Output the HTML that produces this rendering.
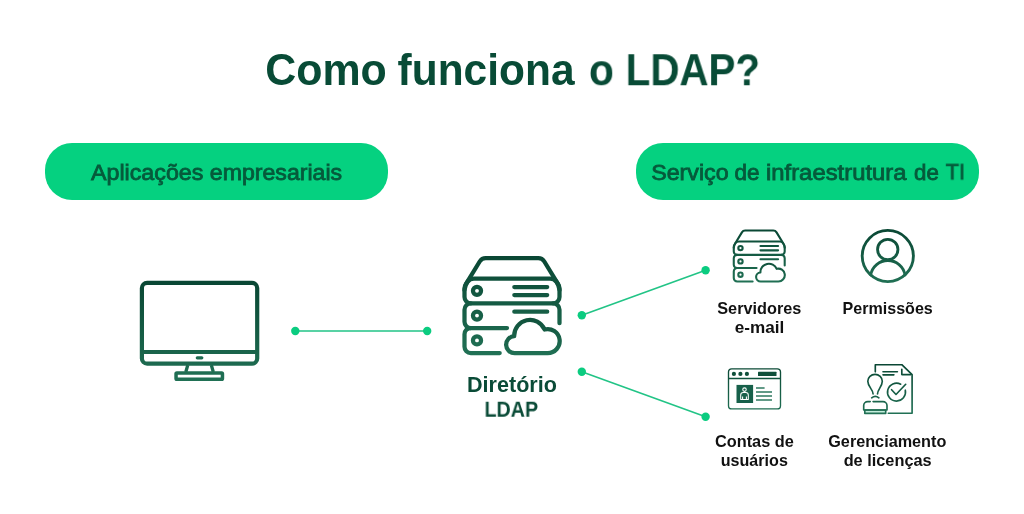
<!DOCTYPE html>
<html lang="pt-BR">
<head>
<meta charset="utf-8">
<title>Como funciona o LDAP?</title>
<style>
  html,body{margin:0;padding:0;background:#fff;}
  body{width:1024px;height:514px;position:relative;overflow:hidden;font-family:"Liberation Sans",sans-serif;}
  h1,h2,p{margin:0;padding:0;font-size:inherit;font-weight:inherit;}
  .t{position:absolute;display:block;white-space:nowrap;will-change:transform;}
  .ttl .t{font-size:42px;line-height:42px;font-weight:bold;color:#084b36;transform-origin:0 35px;}
  .pl .t{font-size:22px;line-height:22px;font-weight:normal;color:#065a3b;transform-origin:0 18px;-webkit-text-stroke:0.8px #065a3b;}
  .dir .t{font-size:21px;line-height:21px;font-weight:bold;color:#0a4b37;transform-origin:0 18px;}
  .lbl .t{font-size:16px;line-height:16px;font-weight:bold;color:#111111;transform-origin:0 13px;}
  .pill{position:absolute;top:143px;height:57px;border-radius:27px;background:#05d180;}
  #p1{left:44.6px;width:343.4px;}
  #p2{left:636.4px;width:342.8px;}
  svg{position:absolute;left:0;top:0;}
</style>
</head>
<body>
<h1 class="ttl"><span class="t" style="left:265px;top:50px;transform:translate(0.28px,0.10px) scale(1.0215,1.05);">Como</span> <span class="t" style="left:397px;top:50px;transform:translate(0.58px,0.10px) scale(1.0111,1.05);">funciona</span> <span class="t" style="left:588px;top:50px;transform:translate(0.98px,0.10px) scale(0.9697,1.05);">o</span> <span class="t" style="left:625px;top:50px;transform:translate(0.68px,0.10px) scale(0.9599,1.05);">LDAP?</span></h1>
<div class="pill" id="p1"></div>
<div class="pill" id="p2"></div>
<h2 class="pl"><span class="t" style="left:91px;top:161px;transform:translate(0.02px,0.60px) scale(1.0560,1.02);">Aplicações</span> <span class="t" style="left:209px;top:161px;transform:translate(0.80px,0.60px) scale(1.0512,1.02);">empresariais</span></h2>
<h2 class="pl"><span class="t" style="left:651px;top:161px;transform:translate(0.19px,0.60px) scale(1.0554,1.02);">Serviço</span> <span class="t" style="left:734px;top:161px;transform:translate(0.51px,0.60px) scale(1.0214,1.02);">de</span> <span class="t" style="left:766px;top:161px;transform:translate(0.00px,0.60px) scale(1.0838,1.02);">infraestrutura</span> <span class="t" style="left:914px;top:161px;transform:translate(0.11px,0.60px) scale(1.0129,1.02);">de</span> <span class="t" style="left:945px;top:161px;transform:translate(0.76px,0.60px) scale(0.9845,1.02);">TI</span></h2>
<svg id="art" width="1024" height="514" viewBox="0 0 1024 514" fill="none">
  <defs>
    <linearGradient id="gBig" gradientUnits="userSpaceOnUse" x1="0" y1="255" x2="0" y2="356">
      <stop offset="0" stop-color="#094633"/><stop offset="1" stop-color="#217155"/>
    </linearGradient>
    <linearGradient id="gCloud" gradientUnits="userSpaceOnUse" x1="0" y1="316" x2="0" y2="356">
      <stop offset="0" stop-color="#0f4f3a"/><stop offset="1" stop-color="#217155"/>
    </linearGradient>
    <linearGradient id="gMon" gradientUnits="userSpaceOnUse" x1="0" y1="280" x2="0" y2="382">
      <stop offset="0" stop-color="#094633"/><stop offset="1" stop-color="#217155"/>
    </linearGradient>
    <linearGradient id="gTop" gradientUnits="userSpaceOnUse" x1="0" y1="228" x2="0" y2="284">
      <stop offset="0" stop-color="#094633"/><stop offset="1" stop-color="#217155"/>
    </linearGradient>
    <linearGradient id="gBot" gradientUnits="userSpaceOnUse" x1="0" y1="364" x2="0" y2="414">
      <stop offset="0" stop-color="#094633"/><stop offset="1" stop-color="#217155"/>
    </linearGradient>
    <g id="server" stroke-linecap="round" stroke-linejoin="round">
      <path d="M470.8 303.4H553.2a6.3 6.3 0 0 0 6.3-6.3V288.5Q559.5 286 557.8 283.6L544.3 261.5Q542.2 258.1 538.3 258.1H485.7Q481.8 258.1 479.7 261.5L466.2 283.6Q464.5 286 464.5 288.5V297.1a6.3 6.3 0 0 0 6.3 6.3Z"/>
      <path d="M464.5 290C465.5 283.5 468.5 278.5 474 278.5H550C555.5 278.5 558.5 283.5 559.5 290"/>
      <path d="M470.8 303.4a6.3 6.3 0 0 0-6.3 6.3V321.7a6.3 6.3 0 0 0 6.3 6.3H507"/>
      <path d="M553.2 303.4a6.3 6.3 0 0 1 6.3 6.3V323.2"/>
      <path d="M470.8 328.0a6.3 6.3 0 0 0-6.3 6.3V346.7a6.3 6.3 0 0 0 6.3 6.3H499.7"/>
      <circle cx="477" cy="290.8" r="4.05"/>
      <circle cx="477" cy="315.6" r="4.05"/>
      <circle cx="477" cy="340.4" r="4.05"/>
      <path d="M514.3 287H547.2M514.3 295H547.2M514.3 311.7H547.2"/>
      <path d="M514.60 353.20A8.5 8.5 0 0 1 514.21 336.21A15.8 15.8 0 0 1 544.54 329.52A12.0 12.0 0 1 1 547.70 353.10Z" stroke="url(#gCloud)"/>
    </g>
  </defs>

  <!-- connectors -->
  <g stroke="#22c486" stroke-width="1.6" stroke-linecap="round">
    <path d="M295.3 331H427.2"/>
    <path d="M581.8 315.3L705.6 270.3"/>
    <path d="M581.8 371.7L705.6 416.7"/>
  </g>
  <g fill="#0bcc80">
    <circle cx="295.3" cy="331" r="4.2"/>
    <circle cx="427.2" cy="331" r="4.2"/>
    <circle cx="581.8" cy="315.3" r="4.2"/>
    <circle cx="705.6" cy="270.3" r="4.2"/>
    <circle cx="581.8" cy="371.7" r="4.2"/>
    <circle cx="705.6" cy="416.7" r="4.2"/>
  </g>

  <!-- monitor -->
  <g stroke="url(#gMon)" stroke-width="4.2" stroke-linejoin="round" stroke-linecap="round">
    <rect x="141.9" y="282.9" width="115.3" height="80.7" rx="5.2"/>
    <path d="M141.9 352H257.2" stroke-linecap="butt"/>
    <path d="M187.8 365L185.8 372M211.3 365L213.3 372" stroke-width="3.3" stroke-linecap="butt"/>
    <rect x="176.05" y="373.0" width="46.4" height="6.2" rx="0.8" stroke-width="3.5"/>
    <rect x="195.7" y="356.3" width="7.7" height="3.1" rx="1.55" fill="#1c6a50" stroke="none"/>
  </g>

  <!-- big server -->
  <use href="#server" stroke="url(#gBig)" stroke-width="4.25"/>

  <!-- small server -->
  <g transform="translate(759.15 255.95) scale(0.536) translate(-511.85 -305.45)">
    <use href="#server" stroke="url(#gBig)" stroke-width="3.9"/>
  </g>

  <!-- permissions -->
  <g stroke="url(#gTop)" stroke-width="2.85" stroke-linecap="round">
    <circle cx="887.8" cy="256" r="25.6"/>
    <circle cx="887.75" cy="249.5" r="10.2"/>
    <path d="M870.7 275A17.4 17.4 0 0 1 905 275"/>
  </g>

  <!-- accounts (browser window) -->
  <g stroke="url(#gBot)" stroke-width="1.35">
    <rect x="728.5" y="368.9" width="52" height="40" rx="3.2"/>
    <path d="M728.5 378.5H780.5"/>
    <g fill="#0f4f3a" stroke="none">
      <circle cx="733.9" cy="373.9" r="2.1"/>
      <circle cx="740.4" cy="373.9" r="2.1"/>
      <circle cx="746.9" cy="373.9" r="2.1"/>
      <rect x="758" y="371.8" width="18.5" height="4.1" rx="0.5"/>
      <rect x="736.5" y="384.9" width="16.6" height="18.1" fill="#17604a"/>
    </g>
    <g stroke="#ffffff" stroke-width="1.05" stroke-linejoin="round">
      <circle cx="744.5" cy="389.6" r="1.75"/>
      <path d="M740.7 399.4V395Q740.7 392.4 743.3 392.4H745.7Q748.3 392.4 748.3 395V399.4Z"/>
      <path d="M742.6 399.4V396.6M746.4 399.4V396.6"/>
    </g>
    <path d="M756 388.1H764.6M756 392.1H772M756 396H772M756 400H772" stroke-width="1.5" stroke="#2f7a60"/>
  </g>

  <!-- licences (stamp + doc) -->
  <g stroke="url(#gBot)" stroke-width="1.65" stroke-linejoin="round" stroke-linecap="round">
    <path d="M875.3 371.8V364.7H901.8L912.1 374.6V413.2H888.3"/>
    <path d="M901.8 369.2V374.6H911"/>
    <path d="M883 371.7H897.4M883 374.8H893.9"/>
    <path d="M905.3 390.2A9 9 0 1 1 900.7 384.15"/>
    <path d="M891.6 389.7L896 394.5L905.7 384.3"/>
    <path d="M873.1 394C873.1 389.5 867.8 386.5 867.8 381.3A7.25 7 0 0 1 882.3 381.3C882.3 386.5 877.5 389.5 877.5 394"/>
    <path d="M871.7 397.8Q875.3 394.8 878.9 397.8"/>
    <rect x="864.8" y="410" width="20.9" height="3.4" fill="#c4eddc"/>
    <path d="M863.7 410V405.6A4 4 0 0 1 867.7 401.6H870.2M873.1 401.6H883A4 4 0 0 1 887 405.6V410H863.7"/>
  </g>
</svg>

<p class="dir"><span class="t" style="left:467px;top:373px;transform:translate(0.01px,0.80px) scale(1.0269,1.02);">Diretório</span> <span class="t" style="left:484px;top:399px;transform:translate(0.52px,0.10px) scale(0.9361,1.02);">LDAP</span></p>
<p class="lbl"><span class="t" style="left:717px;top:300px;transform:translate(0.27px,0.80px) scale(1.0170,1.04);">Servidores</span> <span class="t" style="left:734px;top:319px;transform:translate(0.69px,0.80px) scale(1.0699,1.04);">e-mail</span></p>
<p class="lbl"><span class="t" style="left:842px;top:300px;transform:translate(0.54px,0.80px) scale(1.0046,1.04);">Permissões</span></p>
<p class="lbl"><span class="t" style="left:714px;top:433px;transform:translate(0.95px,0.90px) scale(1.0199,1.04);">Contas de</span> <span class="t" style="left:720px;top:453px;transform:translate(0.73px,0.40px) scale(1.0069,1.04);">usuários</span></p>
<p class="lbl"><span class="t" style="left:828px;top:433px;transform:translate(0.25px,0.90px) scale(1.0134,1.04);">Gerenciamento</span> <span class="t" style="left:843px;top:453px;transform:translate(0.65px,0.40px) scale(1.0193,1.04);">de licenças</span></p>
</body>
</html>
